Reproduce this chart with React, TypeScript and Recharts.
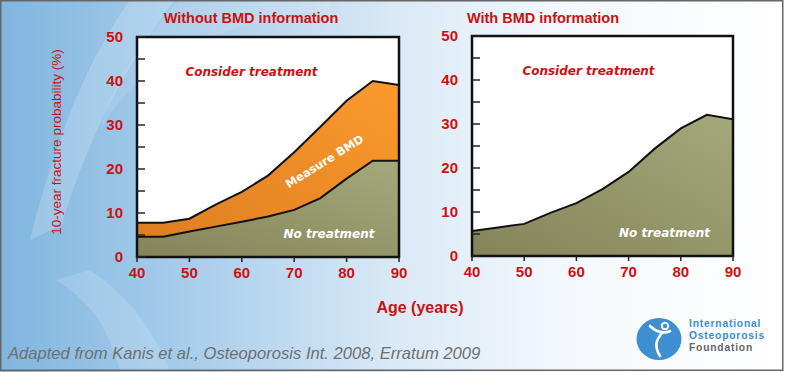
import React from 'react';
import { AreaChart, Area, XAxis, YAxis, CartesianGrid, ReferenceArea } from 'recharts';

const ages = [40, 45, 50, 55, 60, 65, 70, 75, 80, 85, 90];
const withoutBmdUpper = [7.8, 7.8, 8.7, 11.9, 14.8, 18.5, 23.8, 29.6, 35.5, 40.0, 39.1];
const withoutBmdLower = [4.6, 4.6, 5.8, 6.9, 8.0, 9.2, 10.7, 13.4, 17.8, 21.9, 21.9];
const withBmd = [5.7, 6.5, 7.3, 9.8, 12.0, 15.2, 19.1, 24.4, 29.0, 32.1, 31.1];
const xTicks = [40, 50, 60, 70, 80, 90];
const yTicks = [0, 5, 10, 15, 20, 25, 30, 35, 40, 45, 50];

const leftData = ages.map((age, i) => ({ age, upper: withoutBmdUpper[i], lower: withoutBmdLower[i] }));
const rightData = ages.map((age, i) => ({ age, value: withBmd[i] }));

const RED = '#cc1111';
const SANS = '"Liberation Sans", Arial, sans-serif';
const VERD = '"DejaVu Sans", Verdana, sans-serif';

const YTick = (props: any) => {
  const { x, y, payload } = props;
  const v = payload.value;
  return (
    <g>
      <line x1={x} x2={x + 8} y1={y} y2={y} stroke="#222" strokeWidth={1.5} />
      {v % 10 === 0 && (
        <text x={x - 14} y={y} dy="0.36em" textAnchor="end" fill={RED} fontWeight="bold" fontSize={15} fontFamily={SANS}>
          {v}
        </text>
      )}
    </g>
  );
};

const XTick = (props: any) => {
  const { x, y, payload } = props;
  return (
    <g>
      <line x1={x} x2={x} y1={y} y2={y + 5} stroke="#222" strokeWidth={1.5} />
      <text x={x} y={y + 16} dy="0.36em" textAnchor="middle" fill={RED} fontWeight="bold" fontSize={15} fontFamily={SANS}>
        {payload.value}
      </text>
    </g>
  );
};

const Defs = () => (
  <defs>
    <linearGradient id="orangeGrad" x1="0" y1="1" x2="1" y2="0">
      <stop offset="0%" stopColor="#dc7c22" />
      <stop offset="100%" stopColor="#fb9a2c" />
    </linearGradient>
    <linearGradient id="greenGrad" x1="0" y1="1" x2="1" y2="0">
      <stop offset="0%" stopColor="#84845a" />
      <stop offset="100%" stopColor="#a4a97a" />
    </linearGradient>
  </defs>
);

const axes = () => [
  <XAxis key="x" dataKey="age" type="number" domain={[40, 90]} ticks={xTicks} interval={0} height={30}
    tickSize={0} tickMargin={0} axisLine={false} tick={<XTick />} allowDataOverflow />,
  <YAxis key="y" type="number" domain={[0, 50]} ticks={yTicks} interval={0} width={40}
    tickSize={0} tickMargin={0} axisLine={false} tick={<YTick />} allowDataOverflow />,
];

const abs = (left: number, top: number, extra: React.CSSProperties = {}): React.CSSProperties => ({
  position: 'absolute', left, top, transform: 'translate(-50%, -50%)', whiteSpace: 'nowrap', lineHeight: 1, zIndex: 5, ...extra,
});

export default function App() {
  return (
    <div style={{ position: 'absolute', left: 0, top: 0, width: 785, height: 372, overflow: 'hidden', fontFamily: SANS }}>
      <svg width={785} height={372} style={{ position: 'absolute', left: 0, top: 0 }}>
        <defs>
          <linearGradient id="bg" x1="0" y1="0" x2="1" y2="0">
            <stop offset="0%" stopColor="#80b6df" />
            <stop offset="22%" stopColor="#a4cbea" />
            <stop offset="50%" stopColor="#d9e9f6" />
            <stop offset="72%" stopColor="#f4f8fc" />
            <stop offset="100%" stopColor="#ffffff" />
          </linearGradient>
        </defs>
        <rect x={0} y={0} width={785} height={372} fill="url(#bg)" />
        <path d="M 30 240 C 50 160, 80 70, 130 0 L 175 0 C 120 70, 80 160, 62 225 Z" fill="#ffffff" opacity={0.18} />
        <path d="M 55 280 C 90 300, 110 330, 120 372 L 170 372 C 150 320, 120 290, 90 270 Z" fill="#ffffff" opacity={0.15} />
        <path d="M 100 130 C 140 60, 220 20, 330 10 L 330 0 L 180 0 C 140 40, 110 90, 100 130 Z" fill="#ffffff" opacity={0.1} />
        <rect x={0.75} y={0.75} width={782} height={369.5} fill="none" stroke="#666" strokeWidth={1.5} />
        {/* logo */}
        <ellipse cx={659} cy={339} rx={22.5} ry={21} fill="#3d8fd0" />
        <circle cx={665} cy={326} r={3.2} fill="none" stroke="#fff" strokeWidth={2} />
        <path d="M 650 326 C 656 332, 664 334, 670 331 M 662 333 C 656 340, 654 346, 660 356" fill="none" stroke="#fff" strokeWidth={2.6} strokeLinecap="round" />
      </svg>

      <div style={{ position: 'absolute', left: 0, top: 0 }}>
        <AreaChart width={420} height={300} data={leftData} margin={{ top: 37, right: 21, bottom: 13, left: 97 }}>
          <Defs />
          <CartesianGrid horizontal={false} vertical={false} fill="#ffffff" />
          {axes()}
          <Area type="linear" dataKey="upper" stroke="#111" strokeWidth={2} fill="url(#orangeGrad)" fillOpacity={1} baseValue={0} isAnimationActive={false} dot={false} activeDot={false} />
          <Area type="linear" dataKey="lower" stroke="#111" strokeWidth={2} fill="url(#greenGrad)" fillOpacity={1} baseValue={0} isAnimationActive={false} dot={false} activeDot={false} />
          <ReferenceArea x1={40} x2={90} y1={0} y2={50} fill="none" stroke="#111" strokeWidth={2.5} ifOverflow="visible" />
        </AreaChart>
      </div>

      <div style={{ position: 'absolute', left: 420, top: 0 }}>
        <AreaChart width={340} height={300} data={rightData} margin={{ top: 36, right: 27, bottom: 14, left: 12 }}>
          <Defs />
          <CartesianGrid horizontal={false} vertical={false} fill="#ffffff" />
          {axes()}
          <Area type="linear" dataKey="value" stroke="#111" strokeWidth={2} fill="url(#greenGrad)" fillOpacity={1} baseValue={0} isAnimationActive={false} dot={false} activeDot={false} />
          <ReferenceArea x1={40} x2={90} y1={0} y2={50} fill="none" stroke="#111" strokeWidth={2.5} ifOverflow="visible" />
        </AreaChart>
      </div>

      <div style={abs(251, 18, { color: RED, fontWeight: 'bold', fontSize: 14.5 })}>Without BMD information</div>
      <div style={abs(543, 18, { color: RED, fontWeight: 'bold', fontSize: 14.5 })}>With BMD information</div>
      <div style={abs(420, 308, { color: RED, fontWeight: 'bold', fontSize: 16 })}>Age (years)</div>
      <div style={abs(57, 142, { color: RED, fontSize: 13.5, transform: 'translate(-50%, -50%) rotate(-90deg)' })}>10-year fracture probability (%)</div>

      <div style={abs(251.5, 72, { color: RED, fontFamily: VERD, fontWeight: 'bold', fontStyle: 'italic', fontSize: 12 })}>Consider treatment</div>
      <div style={abs(588.5, 71, { color: RED, fontFamily: VERD, fontWeight: 'bold', fontStyle: 'italic', fontSize: 12 })}>Consider treatment</div>
      <div style={abs(329, 234, { color: '#ffffff', fontFamily: VERD, fontWeight: 'bold', fontStyle: 'italic', fontSize: 12 })}>No treatment</div>
      <div style={abs(664.5, 233, { color: '#ffffff', fontFamily: VERD, fontWeight: 'bold', fontStyle: 'italic', fontSize: 12 })}>No treatment</div>
      <div style={abs(325, 162, { color: '#ffffff', fontFamily: VERD, fontWeight: 'bold', fontSize: 11.5, transform: 'translate(-50%, -50%) rotate(-32deg)' })}>Measure BMD</div>

      <div style={{ position: 'absolute', left: 8, top: 346, color: '#6f6f6f', fontStyle: 'italic', fontSize: 16.6, whiteSpace: 'nowrap', lineHeight: 1 }}>
        Adapted from Kanis et al., Osteoporosis Int. 2008, Erratum 2009
      </div>

      <div style={{ position: 'absolute', left: 689, top: 318, fontFamily: SANS, fontWeight: 'bold', fontSize: 10.3, letterSpacing: 0.8, whiteSpace: 'nowrap' }}>
        <div style={{ color: '#3a8fd2', lineHeight: '12px', height: 12 }}>International</div>
        <div style={{ color: '#3a8fd2', lineHeight: '12px', height: 12 }}>Osteoporosis</div>
        <div style={{ color: '#666', lineHeight: '12px', height: 12 }}>Foundation</div>
      </div>
    </div>
  );
}
